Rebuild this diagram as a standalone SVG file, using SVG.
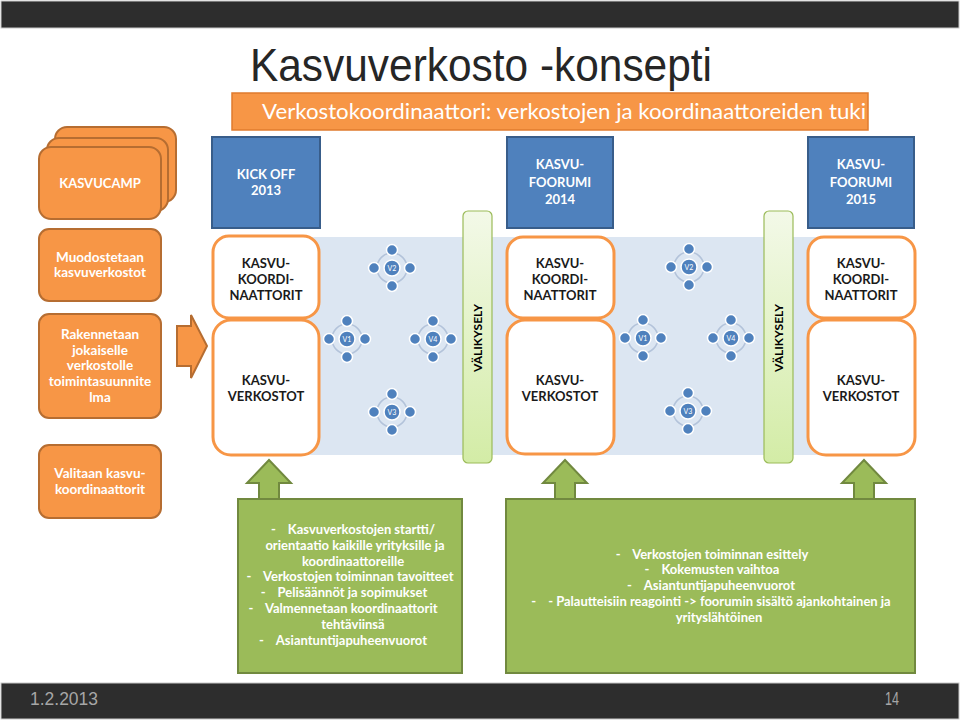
<svg xmlns="http://www.w3.org/2000/svg" width="960" height="720" viewBox="0 0 960 720">
<defs>
<style>
.ob{fill:#f79646;stroke:#b66d31;stroke-width:2}
.bb{fill:#4f81bd;stroke:#385d8a;stroke-width:2}
.wb{fill:#fff;stroke:#f79646;stroke-width:3}
.gb{fill:#9bbb59;stroke:#71893f;stroke-width:2}
.vb{fill:url(#vg);stroke:#9bbb59;stroke-width:1.2}
.t{font-family:Lato,"Open Sans","DejaVu Sans",sans-serif;font-weight:700;font-size:13px;text-anchor:middle}
.l{font-size:13.5px}
.w{fill:#fff}
.k{fill:#1a1a1a}
.vt{font-family:Lato,"Open Sans",sans-serif;font-weight:700;font-size:12px;fill:#000;text-anchor:middle}
.vl{font-family:Lato,"Open Sans",sans-serif;font-size:7px;fill:#fff;text-anchor:middle}
.ring{fill:none;stroke:#b3c3da;stroke-width:1.5}
.dot{fill:#4f81bd;stroke:#fff;stroke-width:1.5}
</style>
<linearGradient id="vg" x1="0" y1="0" x2="0" y2="1">
<stop offset="0" stop-color="#f3f9e8"/>
<stop offset="1" stop-color="#d3eca6"/>
</linearGradient>
<g id="cl">
<circle class="ring" r="15"/>
<circle class="dot" cx="0" cy="-18" r="5.5"/>
<circle class="dot" cx="0" cy="18" r="5.5"/>
<circle class="dot" cx="-18" cy="0" r="5.5"/>
<circle class="dot" cx="18" cy="0" r="5.5"/>
<circle class="dot" r="8"/>
</g>
</defs>
<rect width="960" height="720" fill="#fff"/>
<!-- top bar -->
<rect x="1" y="1" width="958" height="27" fill="#2d2d2d" stroke="#c8c8c8" stroke-width="1"/>
<!-- title -->
<text x="250" y="81" font-family="'Liberation Sans',Arial,sans-serif" font-size="46" fill="#262626" textLength="462" lengthAdjust="spacingAndGlyphs">Kasvuverkosto -konsepti</text>
<g id="banner">
<rect x="232" y="93" width="636" height="37" fill="#f79646" stroke="#e07b2e" stroke-width="1.5"/>
<text x="262" y="119" font-family="Lato,'Open Sans',sans-serif" font-size="21" fill="#fff" textLength="604" lengthAdjust="spacingAndGlyphs">Verkostokoordinaattori: verkostojen ja koordinaattoreiden tuki</text>
</g>
<!-- band -->
<rect x="240" y="237" width="650" height="218" fill="#dce6f2"/>

<g id="kasvucamp">
<rect class="ob" x="55" y="127" width="121" height="75" rx="12"/>
<rect class="ob" x="47" y="138" width="121" height="73" rx="12"/>
<rect class="ob" x="39" y="147" width="122" height="72" rx="12"/>
<text class="t w" x="100" y="188">KASVUCAMP</text>
</g>
<g id="muodostetaan">
<rect class="ob" x="39" y="229" width="122" height="72" rx="10"/>
<text class="t l w" x="100" y="262">Muodostetaan</text>
<text class="t l w" x="100" y="277">kasvuverkostot</text>
</g>
<g id="rakennetaan">
<rect class="ob" x="39" y="314" width="122" height="104" rx="10"/>
<text class="t l w" x="100" y="339">Rakennetaan</text>
<text class="t l w" x="100" y="355">jokaiselle</text>
<text class="t l w" x="100" y="370">verkostolle</text>
<text class="t l w" x="100" y="386">toimintasuunnite</text>
<text class="t l w" x="100" y="402">lma</text>
</g>
<g id="valitaan">
<rect class="ob" x="39" y="445" width="122" height="73" rx="10"/>
<text class="t l w" x="100" y="478">Valitaan kasvu-</text>
<text class="t l w" x="100" y="494">koordinaattorit</text>
</g>

<g id="kickoff">
<rect class="bb" x="212" y="137" width="108" height="91"/>
<text class="t w" x="266" y="179">KICK OFF</text>
<text class="t w" x="266" y="195">2013</text>
</g>
<g id="foorumi2014">
<rect class="bb" x="507" y="137" width="106" height="91"/>
<text class="t w" x="560" y="169">KASVU-</text>
<text class="t w" x="560" y="187">FOORUMI</text>
<text class="t w" x="560" y="204">2014</text>
</g>
<g id="foorumi2015">
<rect class="bb" x="808" y="137" width="106" height="91"/>
<text class="t w" x="861" y="169">KASVU-</text>
<text class="t w" x="861" y="187">FOORUMI</text>
<text class="t w" x="861" y="204">2015</text>
</g>

<g id="koordi1">
<rect class="wb" x="213" y="236" width="106" height="82" rx="16"/>
<text class="t k" x="266" y="268">KASVU-</text>
<text class="t k" x="266" y="284">KOORDI-</text>
<text class="t k" x="266" y="300">NAATTORIT</text>
</g>
<g id="verkostot1">
<rect class="wb" x="213" y="320" width="106" height="135" rx="18"/>
<text class="t k" x="266" y="385">KASVU-</text>
<text class="t k" x="266" y="401">VERKOSTOT</text>
</g>
<g id="koordi2">
<rect class="wb" x="507" y="237" width="107" height="81" rx="16"/>
<text class="t k" x="560" y="268">KASVU-</text>
<text class="t k" x="560" y="284">KOORDI-</text>
<text class="t k" x="560" y="300">NAATTORIT</text>
</g>
<g id="verkostot2">
<rect class="wb" x="507" y="320" width="107" height="134" rx="18"/>
<text class="t k" x="560" y="385">KASVU-</text>
<text class="t k" x="560" y="401">VERKOSTOT</text>
</g>
<g id="koordi3">
<rect class="wb" x="808" y="237" width="107" height="81" rx="16"/>
<text class="t k" x="861" y="268">KASVU-</text>
<text class="t k" x="861" y="284">KOORDI-</text>
<text class="t k" x="861" y="300">NAATTORIT</text>
</g>
<g id="verkostot3">
<rect class="wb" x="808" y="320" width="107" height="135" rx="18"/>
<text class="t k" x="861" y="385">KASVU-</text>
<text class="t k" x="861" y="401">VERKOSTOT</text>
</g>

<g id="valikysely1">
<rect class="vb" x="463" y="211" width="29" height="252" rx="5"/>
<text class="vt" transform="translate(482,338) rotate(-90)">VÄLIKYSELY</text>
</g>
<g id="valikysely2">
<rect class="vb" x="764" y="211" width="29" height="252" rx="5"/>
<text class="vt" transform="translate(783,338) rotate(-90)">VÄLIKYSELY</text>
</g>

<g id="net1-v2"><use href="#cl" x="392" y="268"/><text class="vl" x="392" y="270.5">V2</text></g>
<g id="net1-v1"><use href="#cl" x="347" y="339"/><text class="vl" x="347" y="341.5">V1</text></g>
<g id="net1-v4"><use href="#cl" x="433" y="339"/><text class="vl" x="433" y="341.5">V4</text></g>
<g id="net1-v3"><use href="#cl" x="392" y="412"/><text class="vl" x="392" y="414.5">V3</text></g>
<g id="net2-v2"><use href="#cl" x="689" y="267"/><text class="vl" x="689" y="269.5">V2</text></g>
<g id="net2-v1"><use href="#cl" x="643" y="338"/><text class="vl" x="643" y="340.5">V1</text></g>
<g id="net2-v4"><use href="#cl" x="731" y="338"/><text class="vl" x="731" y="340.5">V4</text></g>
<g id="net2-v3"><use href="#cl" x="688" y="411"/><text class="vl" x="688" y="413.5">V3</text></g>

<g id="connectors">
<polygon class="ob" points="177,326 191,326 191,315 207,346 191,378 191,366 177,366"/>
<polygon class="gb" points="259,500 259,483 247,483 269,460 291,483 279,483 279,500"/>
<polygon class="gb" points="555,500 555,483 543,483 565,460 587,483 575,483 575,500"/>
<polygon class="gb" points="854,500 854,483 842,483 864,460 886,483 874,483 874,500"/>
</g>

<g id="box-start">
<rect class="gb" x="238" y="499" width="224" height="174"/>
<text class="t w" x="353" y="534">-<tspan dx="12">Kasvuverkostojen startti/</tspan></text>
<text class="t w" x="355" y="550">orientaatio kaikille yrityksille ja</text>
<text class="t w" x="353" y="566">koordinaattoreille</text>
<text class="t w" x="350" y="581">-<tspan dx="12">Verkostojen toiminnan tavoitteet</tspan></text>
<text class="t w" x="344" y="597">-<tspan dx="12">Pelisäännöt ja sopimukset</tspan></text>
<text class="t w" x="343" y="613">-<tspan dx="12">Valmennetaan koordinaattorit</tspan></text>
<text class="t w" x="353" y="629">tehtäviinsä</text>
<text class="t w" x="343" y="645">-<tspan dx="12">Asiantuntijapuheenvuorot</tspan></text>
</g>
<g id="box-foorumi">
<rect class="gb" x="506" y="499" width="409" height="174"/>
<text class="t w" x="712" y="559">-<tspan dx="12">Verkostojen toiminnan esittely</tspan></text>
<text class="t w" x="712" y="574">-<tspan dx="12">Kokemusten vaihtoa</tspan></text>
<text class="t w" x="711" y="590">-<tspan dx="12">Asiantuntijapuheenvuorot</tspan></text>
<text class="t w" x="711" y="606">-<tspan dx="12">- Palautteisiin reagointi -&gt; foorumin sisältö ajankohtainen ja</tspan></text>
<text class="t w" x="719" y="622">yrityslähtöinen</text>
</g>

<!-- footer -->
<rect x="1" y="683" width="958" height="36" fill="#2d2d2d" stroke="#c8c8c8" stroke-width="1"/>
<text x="30" y="705" font-family="'Liberation Sans',Arial,sans-serif" font-size="18" fill="#a6a6a6" textLength="68" lengthAdjust="spacingAndGlyphs">1.2.2013</text>
<text x="899" y="705" font-family="'Liberation Sans',Arial,sans-serif" font-size="18" fill="#a6a6a6" text-anchor="end" textLength="14" lengthAdjust="spacingAndGlyphs">14</text>
</svg>
